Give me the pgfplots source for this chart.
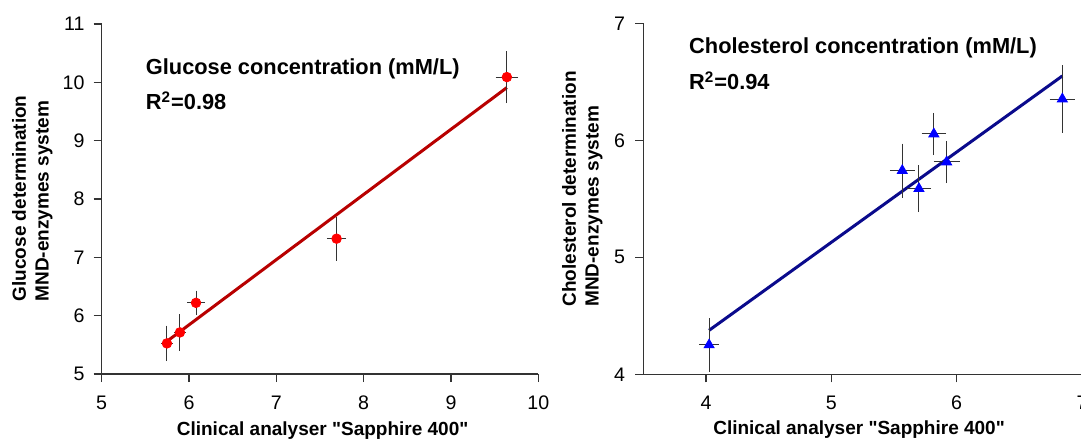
\documentclass[border=0pt]{standalone}
\usepackage{fontspec}
\setmainfont{Liberation Sans}
\usepackage{pgfplots}
\pgfplotsset{compat=1.18}

\definecolor{gluc}{HTML}{FF0000}
\definecolor{glucline}{HTML}{B80000}
\definecolor{chol}{HTML}{0000FF}
\definecolor{cholline}{HTML}{0A0A8C}
\definecolor{axisgray}{HTML}{333333}

\pgfplotsset{
  calib/.style={
    scale only axis,
    axis x line=bottom,
    axis y line=left,
    axis line style={-, draw=axisgray, line width=0.6pt},
    tick align=outside,
    major tick length=4pt,
    tick style={draw=axisgray, line width=0.6pt},
    ticklabel style={font=\fontsize{9.8}{11}\selectfont, text=black, inner sep=0pt},
    /pgf/number format/assume math mode=true,
    xticklabel style={anchor=base, yshift=-13.5pt},
    label style={font=\fontsize{9.5}{11.4}\selectfont\bfseries, inner sep=0pt, align=left},
    xlabel style={anchor=base},
    ylabel style={anchor=west},
    clip=false
  },
  ebar/.style={
    error bars/.cd,
    x dir=both, x explicit,
    y dir=both, y explicit,
    error bar style={draw=axisgray, line width=0.5pt},
    error mark options={draw=axisgray, line width=0.5pt, mark size=1.75pt}
  }
}
\tikzset{
  paneltitle/.style={anchor=base west, inner sep=0pt,
    font=\fontsize{10.9}{13}\selectfont\bfseries}
}

\begin{document}
\begin{tikzpicture}
  % glucose
  \begin{axis}[
    calib,
    at={(50.85pt,33.5pt)}, anchor=south west,
    width=218.3pt, height=175pt,
    xmin=5, xmax=10, ymin=5, ymax=11,
    xtick={5,6,7,8,9,10}, ytick={5,6,7,8,9,10,11},
    yticklabel style={anchor=east, xshift=-4.4pt},
    xlabel={Clinical analyser \textquotedbl Sapphire 400\textquotedbl},
    ylabel={Glucose determination\\MND-enzymes system},
    xlabel style={at={(axis description cs:0.506,-0.1743)}},
    ylabel style={at={(axis description cs:-0.1587,0.2066)}}
  ]
    \addplot[draw=glucline, line width=1.5pt] coordinates {(5.747,5.56) (9.64,9.91)};
    \addplot[only marks, mark=*, mark size=2.4pt,
      mark options={fill=gluc, draw=gluc}, ebar]
      coordinates {
        (5.747,5.525) +- (0.03,0.245)
        (5.896,5.713) +- (0.03,0.25)
        (6.080,6.220) +- (0.06,0.15)
        (7.690,7.320) +- (0.07,0.32)
        (9.640,10.090) +- (0.09,0.385)
      };
    \node[paneltitle] at (axis cs:5.502,10.14) {Glucose concentration (mM/L)};
    \node[paneltitle] at (axis cs:5.502,9.526) {R\textsuperscript{2}=0.98};
  \end{axis}

  % cholesterol
  \begin{axis}[
    calib,
    at={(321.65pt,33.35pt)}, anchor=south west,
    width=219.35pt, height=175.5pt,
    xmin=3.5, xmax=7, ymin=4, ymax=7,
    xtick={4,5,6,7}, ytick={4,5,6,7},
    yticklabel style={anchor=east, xshift=-5pt},
    xlabel={Clinical analyser \textquotedbl Sapphire 400\textquotedbl},
    ylabel={Cholesterol determination\\MND-enzymes system},
    xlabel style={at={(axis description cs:0.4918,-0.1715)}},
    ylabel style={at={(axis description cs:-0.1391,0.1917)}}
  ]
    \addplot[draw=cholline, line width=1.5pt] coordinates {(4.025,4.376) (6.843,6.55)};
    \addplot[only marks, mark=triangle*, mark size=2.9pt,
      mark options={fill=chol, draw=chol}, ebar]
      coordinates {
        (4.025,4.251) +- (0.05,0.2)
        (5.566,5.741) +- (0.07,0.2)
        (5.699,5.587) +- (0.07,0.17)
        (5.818,6.054) +- (0.07,0.15)
        (5.920,5.815) +- (0.075,0.15)
        (6.843,6.353) +- (0.073,0.26)
      };
    \node[paneltitle] at (axis cs:3.863,6.746) {Cholesterol concentration (mM/L)};
    \node[paneltitle] at (axis cs:3.863,6.43) {R\textsuperscript{2}=0.94};
  \end{axis}

  \pgfresetboundingbox
  \path[use as bounding box] (0,0) rectangle (540.5pt,220.5pt);
\end{tikzpicture}
\end{document}
